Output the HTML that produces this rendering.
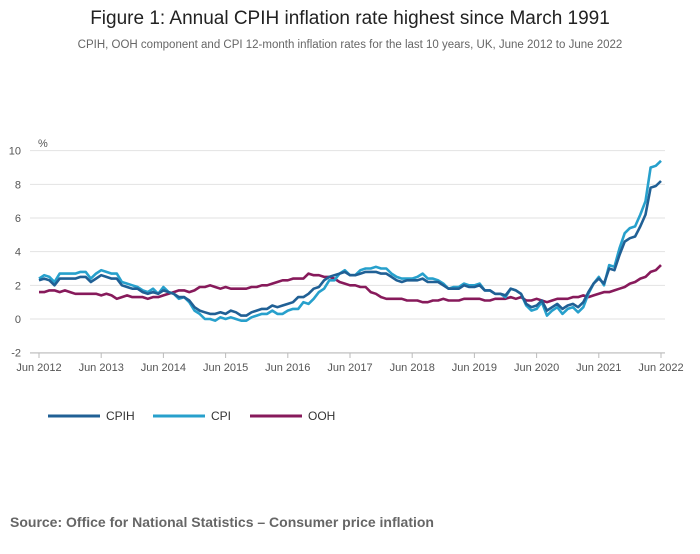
<!DOCTYPE html>
<html><head><meta charset="utf-8"><style>
body{margin:0;background:#fff;font-family:"Liberation Sans",sans-serif}
</style></head><body>
<svg width="700" height="549" xmlns="http://www.w3.org/2000/svg">
<text x="350" y="24" text-anchor="middle" font-size="19" fill="#222">Figure 1: Annual CPIH inflation rate highest since March 1991</text>
<text x="350" y="48" text-anchor="middle" font-size="11.5" fill="#666">CPIH, OOH component and CPI 12-month inflation rates for the last 10 years, UK, June 2012 to June 2022</text>
<text x="38" y="147" font-size="11" fill="#555">%</text>
<g id="grid"></g><g id="series"></g><g id="xaxis"></g>
<g>
<g><line x1="48" y1="416" x2="100" y2="416" stroke="#206095" stroke-width="3"/><text x="106" y="420" font-size="12" fill="#333">CPIH</text></g>
<g><line x1="153" y1="416" x2="205" y2="416" stroke="#27a0cc" stroke-width="3"/><text x="211" y="420" font-size="12" fill="#333">CPI</text></g>
<g><line x1="250" y1="416" x2="302" y2="416" stroke="#871a5b" stroke-width="3"/><text x="308" y="420" font-size="12" fill="#333">OOH</text></g>
</g>
<text x="10" y="527" font-size="14" font-weight="bold" fill="#666">Source: Office for National Statistics – Consumer price inflation</text>
</svg>
<script>
const yTicks=[-2,0,2,4,6,8,10];
const xTickLabels=["Jun 2012","Jun 2013","Jun 2014","Jun 2015","Jun 2016","Jun 2017","Jun 2018","Jun 2019","Jun 2020","Jun 2021","Jun 2022"];
const cpi=[2.4,2.6,2.5,2.2,2.7,2.7,2.7,
2.7,2.8,2.8,2.4,2.7,2.9,2.8,2.7,2.7,2.2,2.1,2.0,
1.9,1.7,1.6,1.8,1.5,1.9,1.6,1.5,1.2,1.3,1.0,0.5,
0.3,0.0,0.0,-0.1,0.1,0.0,0.1,0.0,-0.1,-0.1,0.1,0.2,
0.3,0.3,0.5,0.3,0.3,0.5,0.6,0.6,1.0,0.9,1.2,1.6,
1.8,2.3,2.3,2.7,2.9,2.6,2.6,2.9,3.0,3.0,3.1,3.0,
3.0,2.7,2.5,2.4,2.4,2.4,2.5,2.7,2.4,2.4,2.3,2.1,
1.8,1.9,1.9,2.1,2.0,2.0,2.1,1.7,1.7,1.5,1.5,1.3,
1.8,1.7,1.5,0.8,0.5,0.6,1.0,0.2,0.5,0.7,0.3,0.6,
0.7,0.4,0.7,1.5,2.1,2.5,2.0,3.2,3.1,4.2,5.1,5.4,
5.5,6.2,7.0,9.0,9.1,9.4];
const cpih=[2.3,2.4,2.3,2.0,2.4,2.4,2.4,
2.4,2.5,2.5,2.2,2.4,2.6,2.5,2.4,2.4,2.0,1.9,1.8,
1.8,1.6,1.5,1.6,1.5,1.7,1.6,1.5,1.3,1.3,1.1,0.7,
0.5,0.4,0.3,0.3,0.4,0.3,0.5,0.4,0.2,0.2,0.4,0.5,
0.6,0.6,0.8,0.7,0.8,0.9,1.0,1.3,1.3,1.5,1.8,1.9,
2.3,2.5,2.6,2.7,2.8,2.6,2.6,2.7,2.8,2.8,2.8,2.7,
2.7,2.5,2.3,2.2,2.3,2.3,2.3,2.4,2.2,2.2,2.2,2.0,
1.8,1.8,1.8,2.0,1.9,1.9,2.0,1.7,1.7,1.5,1.5,1.4,
1.8,1.7,1.5,0.9,0.7,0.8,1.1,0.5,0.7,0.9,0.6,0.8,
0.9,0.7,1.0,1.6,2.1,2.4,2.1,3.0,2.9,3.8,4.6,4.8,
4.9,5.5,6.2,7.8,7.9,8.2];
const ooh=[1.6,1.6,1.7,1.7,1.6,1.7,1.6,
1.5,1.5,1.5,1.5,1.5,1.4,1.5,1.4,1.2,1.3,1.4,1.3,
1.3,1.3,1.2,1.3,1.3,1.4,1.5,1.6,1.7,1.7,1.6,1.7,
1.9,1.9,2.0,1.9,1.8,1.9,1.8,1.8,1.8,1.8,1.9,1.9,
2.0,2.0,2.1,2.2,2.3,2.3,2.4,2.4,2.4,2.7,2.6,2.6,
2.5,2.5,2.4,2.2,2.1,2.0,2.0,1.9,1.9,1.6,1.5,1.3,
1.2,1.2,1.2,1.2,1.1,1.1,1.1,1.0,1.0,1.1,1.1,1.2,
1.1,1.1,1.1,1.2,1.2,1.2,1.2,1.1,1.1,1.2,1.2,1.2,
1.3,1.2,1.3,1.1,1.1,1.2,1.1,1.0,1.1,1.2,1.2,1.2,
1.3,1.3,1.4,1.3,1.4,1.5,1.6,1.6,1.7,1.8,1.9,2.1,
2.2,2.4,2.5,2.8,2.9,3.2];
const NS="http://www.w3.org/2000/svg";
const x0=39,x1=661,n=cpi.length;
const xs=i=>x0+(x1-x0)*i/(n-1);
const ys=v=>319-v*(202/12);
const grid=document.getElementById('grid');
yTicks.forEach(t=>{
 const l=document.createElementNS(NS,'line');
 l.setAttribute('x1',30);l.setAttribute('x2',665);l.setAttribute('y1',ys(t));l.setAttribute('y2',ys(t));
 l.setAttribute('stroke','#e2e2e2');l.setAttribute('stroke-width',1);
 
 
 grid.appendChild(l);
 const tx=document.createElementNS(NS,'text');
 tx.setAttribute('x',21);tx.setAttribute('y',ys(t)+4);tx.setAttribute('text-anchor','end');
 tx.setAttribute('font-size',11);tx.setAttribute('fill','#555');tx.textContent=t;
 
 
 grid.appendChild(tx);
});
const xa=document.getElementById('xaxis');
const ax=document.createElementNS(NS,'line');
ax.setAttribute('x1',30);ax.setAttribute('x2',665);ax.setAttribute('y1',353);ax.setAttribute('y2',353);ax.setAttribute('stroke','#bbb');


xa.appendChild(ax);
xTickLabels.forEach((lab,k)=>{
 const x=xs(k*12);
 const tk=document.createElementNS(NS,'line');
 tk.setAttribute('x1',x);tk.setAttribute('x2',x);tk.setAttribute('y1',353);tk.setAttribute('y2',358);tk.setAttribute('stroke','#bbb');
 
 
 xa.appendChild(tk);
 const tx=document.createElementNS(NS,'text');
 tx.setAttribute('x',x);tx.setAttribute('y',371);tx.setAttribute('text-anchor','middle');
 tx.setAttribute('font-size',11);tx.setAttribute('fill','#555');tx.textContent=lab;
 
 
 xa.appendChild(tx);
});
const sg=document.getElementById('series');
[[ooh,'#871a5b','line-ooh'],[cpi,'#27a0cc','line-cpi'],[cpih,'#206095','line-cpih']].forEach(([d,c,name])=>{
 const p=document.createElementNS(NS,'path');
 p.setAttribute('d',d.map((v,i)=>(i?'L':'M')+xs(i).toFixed(1)+','+ys(v).toFixed(1)).join(''));
 p.setAttribute('fill','none');p.setAttribute('stroke',c);p.setAttribute('stroke-width',2.6);p.setAttribute('stroke-linejoin','round');
 
 
 sg.appendChild(p);
});
</script>
</body></html>
